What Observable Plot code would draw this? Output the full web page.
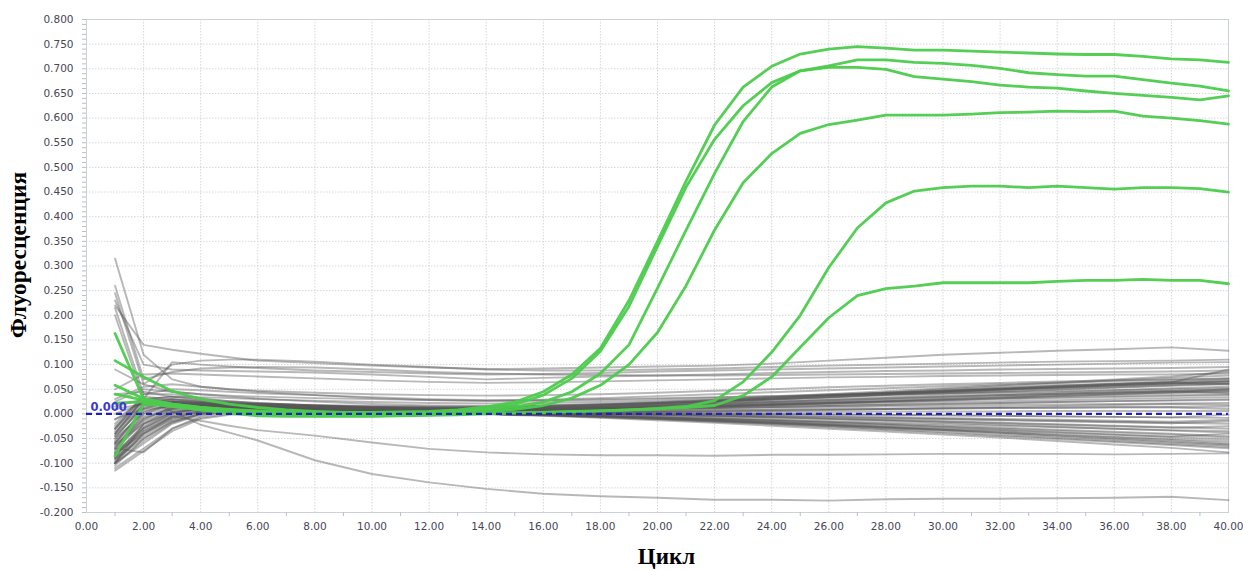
<!DOCTYPE html>
<html><head><meta charset="utf-8">
<script src="https://cdn.jsdelivr.net/npm/d3@7"></script>
<script src="https://cdn.jsdelivr.net/npm/@observablehq/plot@0.6"></script>
<style>body{margin:0;background:#fff}</style>
</head><body><div id="chart"></div>
<script>
// ---- Data ----
const cycles = [1,2,3,4,5,6,7,8,9,10,11,12,13,14,15,16,17,18,19,20,21,22,23,24,25,26,27,28,29,30,31,32,33,34,35,36,37,38,39,40];

const greenA = [0.163,0.030,0.020,0.013,0.009,0.006,0.004,0.003,0.003,0.003,0.004,0.005,0.008,0.014,0.024,0.045,0.080,0.133,0.230,0.350,0.472,0.586,0.663,0.705,0.730,0.740,0.745,0.742,0.738,0.738,0.736,0.734,0.732,0.730,0.729,0.729,0.725,0.720,0.718,0.713];
const greenB = [0.108,0.075,0.046,0.030,0.020,0.013,0.008,0.005,0.003,0.002,0.002,0.003,0.005,0.010,0.019,0.038,0.072,0.127,0.218,0.340,0.460,0.557,0.625,0.672,0.696,0.703,0.703,0.699,0.684,0.679,0.674,0.667,0.663,0.661,0.655,0.650,0.646,0.642,0.637,0.645];
const greenC = [0.040,0.028,0.018,0.012,0.008,0.005,0.003,0.002,0.001,0.001,0.001,0.002,0.004,0.008,0.014,0.024,0.045,0.082,0.140,0.255,0.373,0.488,0.593,0.663,0.696,0.706,0.718,0.718,0.713,0.711,0.707,0.701,0.692,0.688,0.685,0.685,0.678,0.671,0.665,0.655];
const greenD = [0.022,0.025,0.015,0.008,0.003,0.000,-0.003,-0.004,-0.004,-0.004,-0.003,-0.002,0.000,0.004,0.009,0.017,0.032,0.058,0.100,0.165,0.260,0.373,0.469,0.528,0.569,0.587,0.596,0.606,0.606,0.606,0.608,0.611,0.612,0.614,0.613,0.614,0.604,0.600,0.595,0.588];
const greenE = [0.058,0.031,0.020,0.013,0.008,0.004,0.001,-0.001,-0.002,-0.002,-0.002,-0.001,0.000,0.001,0.002,0.003,0.004,0.006,0.008,0.011,0.015,0.027,0.065,0.125,0.200,0.297,0.377,0.428,0.452,0.459,0.462,0.462,0.459,0.462,0.459,0.456,0.459,0.459,0.457,0.450];
const greenF = [-0.085,0.020,0.016,0.008,0.001,-0.004,-0.005,-0.005,-0.005,-0.005,-0.004,-0.003,-0.002,0.000,0.002,0.003,0.005,0.006,0.008,0.010,0.013,0.017,0.037,0.075,0.135,0.195,0.240,0.254,0.259,0.266,0.266,0.266,0.266,0.269,0.271,0.271,0.273,0.271,0.271,0.264];

// grey (negative) curves, read at these cycles
const greyCycles = [1,2,3,4,5,6,8,10,12,14,16,18,20,22,24,26,28,30,32,34,36,38,40];
const g1 = [0.22,0.14,0.13,0.122,0.115,0.108,0.103,0.098,0.094,0.091,0.092,0.094,0.096,0.098,0.102,0.108,0.114,0.12,0.124,0.128,0.131,0.135,0.128];
const g2 = [0.09,0.06,0.1,0.108,0.11,0.11,0.106,0.1,0.095,0.09,0.088,0.088,0.09,0.092,0.095,0.098,0.1,0.102,0.104,0.106,0.107,0.108,0.11];
const g3 = [-0.03,0.03,0.105,0.1,0.096,0.093,0.088,0.085,0.082,0.08,0.081,0.083,0.086,0.088,0.09,0.092,0.094,0.096,0.098,0.1,0.102,0.104,0.105];
const g4 = [0.23,0.1,0.09,0.088,0.087,0.086,0.084,0.08,0.075,0.07,0.073,0.076,0.078,0.08,0.083,0.085,0.087,0.088,0.09,0.091,0.092,0.093,0.095];
const g5 = [0.26,0.07,0.085,0.092,0.094,0.095,0.094,0.09,0.085,0.082,0.08,0.079,0.078,0.078,0.079,0.08,0.081,0.082,0.083,0.084,0.085,0.086,0.088];
const g6 = [0.05,0.08,0.082,0.08,0.078,0.076,0.072,0.068,0.065,0.063,0.064,0.066,0.068,0.07,0.072,0.074,0.075,0.077,0.078,0.079,0.08,0.08,0.082];
const g7 = [0.315,0.12,0.07,0.055,0.05,0.047,0.043,0.04,0.038,0.037,0.038,0.04,0.043,0.047,0.05,0.054,0.057,0.06,0.063,0.066,0.068,0.07,0.072];
const g8 = [0.245,0.06,0.045,0.04,0.037,0.035,0.032,0.03,0.028,0.027,0.029,0.032,0.036,0.04,0.044,0.048,0.052,0.056,0.06,0.063,0.066,0.069,0.072];
const g9 = [0.215,0.04,0.05,0.048,0.045,0.042,0.038,0.034,0.03,0.028,0.028,0.03,0.032,0.034,0.036,0.038,0.04,0.042,0.044,0.046,0.048,0.05,0.052];
const g10 = [0.2,0.03,0.035,0.034,0.032,0.03,0.027,0.024,0.022,0.021,0.022,0.024,0.027,0.03,0.034,0.038,0.042,0.046,0.05,0.054,0.058,0.062,0.066];
const g11 = [0.03,0.055,0.06,0.055,0.05,0.045,0.038,0.032,0.028,0.026,0.026,0.028,0.03,0.033,0.036,0.04,0.043,0.046,0.05,0.053,0.056,0.06,0.062];
const b1 = [-0.1,-0.02,0.01,0.018,0.02,0.02,0.018,0.016,0.015,0.015,0.017,0.02,0.024,0.029,0.034,0.04,0.046,0.052,0.058,0.064,0.07,0.076,0.085];
const b2 = [-0.09,-0.03,0.0,0.012,0.015,0.016,0.015,0.013,0.012,0.012,0.014,0.017,0.021,0.026,0.031,0.037,0.043,0.05,0.056,0.062,0.068,0.073,0.078];
const b3 = [-0.07,0.0,0.02,0.022,0.021,0.02,0.017,0.015,0.014,0.014,0.016,0.019,0.023,0.028,0.033,0.038,0.043,0.048,0.053,0.058,0.062,0.066,0.07];
const b4 = [-0.06,0.01,0.025,0.024,0.022,0.02,0.016,0.013,0.011,0.011,0.013,0.016,0.02,0.024,0.029,0.034,0.039,0.044,0.049,0.054,0.058,0.062,0.065];
const b5 = [-0.05,0.02,0.03,0.027,0.024,0.021,0.017,0.014,0.012,0.011,0.012,0.014,0.017,0.021,0.025,0.03,0.034,0.039,0.044,0.049,0.053,0.057,0.06];
const b6 = [-0.04,0.03,0.035,0.03,0.026,0.022,0.017,0.013,0.011,0.01,0.011,0.013,0.016,0.02,0.024,0.028,0.032,0.036,0.04,0.044,0.048,0.052,0.055];
const b7 = [-0.03,0.04,0.04,0.032,0.026,0.022,0.016,0.012,0.01,0.009,0.01,0.012,0.015,0.018,0.022,0.026,0.03,0.034,0.038,0.041,0.044,0.047,0.05];
const b8 = [-0.08,-0.04,-0.01,0.005,0.01,0.012,0.012,0.011,0.01,0.01,0.012,0.014,0.017,0.02,0.024,0.028,0.031,0.035,0.038,0.041,0.044,0.046,0.048];
const b9 = [-0.065,-0.01,0.012,0.016,0.016,0.015,0.013,0.011,0.009,0.009,0.01,0.012,0.014,0.017,0.02,0.023,0.026,0.03,0.033,0.036,0.039,0.042,0.045];
const b10 = [0.02,0.025,0.022,0.018,0.016,0.014,0.011,0.009,0.008,0.008,0.009,0.011,0.013,0.016,0.019,0.022,0.025,0.028,0.031,0.034,0.036,0.038,0.04];
const b11 = [-0.105,-0.05,-0.015,0.0,0.006,0.008,0.009,0.008,0.008,0.008,0.009,0.011,0.013,0.015,0.018,0.021,0.024,0.027,0.03,0.032,0.034,0.036,0.038];
const b12 = [-0.02,0.035,0.03,0.024,0.019,0.016,0.012,0.009,0.007,0.007,0.008,0.009,0.011,0.013,0.016,0.018,0.021,0.024,0.026,0.028,0.03,0.032,0.034];
const b13 = [0.01,0.02,0.018,0.015,0.012,0.01,0.008,0.007,0.006,0.006,0.007,0.008,0.01,0.012,0.014,0.016,0.018,0.02,0.022,0.024,0.026,0.027,0.028];
const b14 = [-0.085,-0.02,0.005,0.01,0.011,0.011,0.01,0.008,0.007,0.006,0.007,0.008,0.009,0.01,0.012,0.013,0.015,0.016,0.018,0.019,0.02,0.021,0.022];
const b15 = [-0.095,-0.035,-0.005,0.006,0.009,0.01,0.009,0.007,0.006,0.005,0.005,0.006,0.006,0.007,0.008,0.009,0.01,0.011,0.012,0.013,0.014,0.014,0.015];
const b16 = [-0.075,-0.015,0.008,0.012,0.012,0.011,0.009,0.007,0.005,0.004,0.004,0.004,0.004,0.004,0.004,0.004,0.005,0.005,0.005,0.006,0.006,0.006,0.006];
const b17 = [-0.055,0.005,0.018,0.016,0.014,0.012,0.009,0.006,0.004,0.003,0.002,0.002,0.001,0.0,0.0,-0.001,-0.002,-0.003,-0.004,-0.005,-0.006,-0.007,-0.008];
const b18 = [-0.045,0.015,0.022,0.018,0.015,0.012,0.008,0.005,0.003,0.002,0.001,0.0,-0.001,-0.002,-0.004,-0.006,-0.008,-0.01,-0.012,-0.014,-0.016,-0.018,-0.02];
const b19 = [-0.035,0.02,0.025,0.02,0.016,0.012,0.008,0.005,0.003,0.002,0.001,0.0,-0.002,-0.004,-0.006,-0.009,-0.012,-0.015,-0.018,-0.021,-0.024,-0.027,-0.03];
const b20 = [-0.1,-0.06,-0.02,-0.002,0.004,0.006,0.006,0.005,0.004,0.003,0.002,0.0,-0.002,-0.005,-0.008,-0.011,-0.014,-0.018,-0.022,-0.026,-0.03,-0.034,-0.038];
const b21 = [-0.11,-0.07,-0.03,-0.008,0.0,0.004,0.005,0.004,0.003,0.002,0.0,-0.002,-0.005,-0.008,-0.012,-0.016,-0.02,-0.024,-0.028,-0.032,-0.036,-0.04,-0.045];
const b22 = [-0.06,-0.005,0.012,0.013,0.012,0.01,0.007,0.004,0.002,0.0,-0.002,-0.004,-0.007,-0.01,-0.014,-0.018,-0.022,-0.027,-0.032,-0.037,-0.042,-0.047,-0.052];
const b23 = [-0.025,0.03,0.028,0.022,0.017,0.013,0.008,0.005,0.002,0.0,-0.002,-0.005,-0.008,-0.012,-0.016,-0.021,-0.026,-0.031,-0.036,-0.041,-0.046,-0.051,-0.056];
const b24 = [-0.09,-0.045,-0.012,0.002,0.007,0.008,0.007,0.005,0.003,0.001,-0.001,-0.004,-0.008,-0.012,-0.017,-0.022,-0.027,-0.032,-0.038,-0.044,-0.05,-0.056,-0.062];
const b25 = [-0.115,-0.075,-0.035,-0.01,-0.002,0.002,0.004,0.003,0.002,0.0,-0.003,-0.006,-0.01,-0.015,-0.02,-0.025,-0.031,-0.037,-0.043,-0.049,-0.055,-0.061,-0.067];
const b26 = [-0.08,-0.025,0.004,0.01,0.01,0.009,0.007,0.004,0.002,0.0,-0.003,-0.007,-0.011,-0.016,-0.021,-0.027,-0.033,-0.039,-0.045,-0.051,-0.057,-0.063,-0.07];
const b27 = [-0.07,-0.078,-0.03,-0.005,0.003,0.006,0.006,0.004,0.002,-0.001,-0.004,-0.008,-0.013,-0.018,-0.024,-0.03,-0.036,-0.042,-0.048,-0.055,-0.062,-0.069,-0.078];
const b28 = [0.0,0.022,0.02,0.016,0.013,0.01,0.007,0.004,0.002,0.0,-0.002,-0.004,-0.006,-0.009,-0.012,-0.015,-0.018,-0.021,-0.024,-0.027,-0.03,-0.033,-0.035];
const b29 = [-0.01,0.01,0.015,0.013,0.011,0.009,0.006,0.004,0.002,0.001,0.0,-0.001,-0.003,-0.005,-0.007,-0.01,-0.013,-0.016,-0.019,-0.022,-0.025,-0.028,-0.025];
const b30 = [-0.098,-0.04,-0.008,0.004,0.008,0.009,0.008,0.006,0.004,0.003,0.002,0.001,0.0,-0.001,-0.002,-0.004,-0.006,-0.008,-0.01,-0.012,-0.014,-0.016,-0.012];
const b31 = [-0.05,0.0,0.015,0.015,0.013,0.011,0.008,0.006,0.004,0.003,0.003,0.003,0.004,0.005,0.006,0.008,0.01,0.012,0.014,0.016,0.018,0.02,0.018];
const b32 = [0.04,0.045,0.035,0.028,0.023,0.019,0.014,0.01,0.008,0.007,0.008,0.01,0.012,0.015,0.018,0.021,0.025,0.028,0.032,0.036,0.04,0.044,0.05];
const b33 = [-0.088,-0.028,0.002,0.012,0.014,0.014,0.013,0.012,0.011,0.012,0.014,0.018,0.022,0.027,0.032,0.037,0.042,0.047,0.052,0.057,0.061,0.065,0.068];
const b34 = [-0.072,-0.012,0.014,0.019,0.019,0.018,0.016,0.014,0.013,0.013,0.015,0.018,0.022,0.026,0.031,0.036,0.041,0.046,0.051,0.056,0.06,0.064,0.06];
const b35 = [-0.058,0.004,0.02,0.02,0.018,0.016,0.013,0.011,0.01,0.01,0.012,0.015,0.019,0.024,0.029,0.034,0.04,0.045,0.05,0.055,0.06,0.064,0.09];
const b36 = [-0.045,0.012,0.024,0.022,0.019,0.016,0.012,0.009,0.007,0.007,0.008,0.01,0.013,0.016,0.02,0.024,0.028,0.032,0.036,0.04,0.043,0.046,0.042];
const b37 = [-0.1,-0.055,-0.018,0.0,0.006,0.008,0.008,0.007,0.006,0.006,0.007,0.008,0.01,0.012,0.014,0.016,0.018,0.02,0.022,0.024,0.026,0.028,0.03];
const b38 = [-0.03,0.025,0.026,0.021,0.017,0.014,0.01,0.007,0.005,0.004,0.004,0.005,0.006,0.007,0.008,0.009,0.01,0.011,0.012,0.012,0.013,0.013,0.01];
const b39 = [-0.068,-0.008,0.01,0.013,0.012,0.01,0.008,0.005,0.003,0.002,0.001,0.0,-0.001,-0.003,-0.005,-0.007,-0.009,-0.011,-0.013,-0.015,-0.017,-0.019,-0.015];
const b40 = [-0.092,-0.05,-0.016,0.0,0.005,0.007,0.006,0.004,0.002,0.0,-0.002,-0.004,-0.007,-0.01,-0.014,-0.018,-0.022,-0.026,-0.03,-0.034,-0.038,-0.042,-0.048];
const b41 = [-0.04,0.018,0.02,0.016,0.013,0.01,0.007,0.004,0.002,0.0,-0.002,-0.005,-0.009,-0.013,-0.018,-0.023,-0.028,-0.033,-0.038,-0.043,-0.048,-0.053,-0.06];
const b42 = [-0.082,-0.035,-0.006,0.005,0.008,0.008,0.007,0.005,0.003,0.001,-0.002,-0.005,-0.009,-0.014,-0.019,-0.024,-0.029,-0.034,-0.04,-0.046,-0.052,-0.058,-0.064];
const b43 = [-0.062,-0.02,0.002,0.008,0.009,0.008,0.006,0.004,0.002,0.0,-0.003,-0.006,-0.01,-0.014,-0.018,-0.022,-0.026,-0.03,-0.034,-0.038,-0.042,-0.046,-0.04];
const b44 = [0.015,0.03,0.025,0.02,0.016,0.013,0.009,0.007,0.005,0.005,0.006,0.008,0.011,0.014,0.018,0.022,0.026,0.03,0.034,0.038,0.041,0.044,0.046];
const b45 = [-0.012,0.028,0.03,0.025,0.021,0.018,0.014,0.011,0.009,0.009,0.011,0.014,0.018,0.023,0.028,0.033,0.038,0.043,0.048,0.053,0.058,0.062,0.066];
const b46 = [-0.078,-0.03,-0.002,0.008,0.01,0.01,0.009,0.007,0.005,0.004,0.003,0.002,0.002,0.001,0.0,-0.001,-0.002,-0.003,-0.004,-0.005,-0.006,-0.007,-0.002];
const b47 = [0.025,0.05,0.045,0.04,0.035,0.031,0.025,0.02,0.017,0.016,0.017,0.019,0.022,0.026,0.03,0.034,0.038,0.042,0.046,0.05,0.054,0.058,0.062];
const low1 = [-0.04,0.03,0.005,-0.022,-0.038,-0.054,-0.094,-0.122,-0.139,-0.152,-0.162,-0.167,-0.17,-0.174,-0.174,-0.176,-0.173,-0.172,-0.172,-0.171,-0.17,-0.168,-0.175];
const low2 = [-0.1,-0.04,-0.005,-0.014,-0.024,-0.033,-0.044,-0.058,-0.071,-0.078,-0.082,-0.084,-0.084,-0.085,-0.083,-0.083,-0.082,-0.081,-0.081,-0.081,-0.082,-0.081,-0.08];

const threshold = 0;
const xTicks = [0,2,4,6,8,10,12,14,16,18,20,22,24,26,28,30,32,34,36,38,40];
const xMinorTicks = [1,3,5,7,9,11,13,15,17,19,21,23,25,27,29,31,33,35,37,39];
const yTicks = [-0.2,-0.15,-0.1,-0.05,0,0.05,0.1,0.15,0.2,0.25,0.3,0.35,0.4,0.45,0.5,0.55,0.6,0.65,0.7,0.75,0.8];
const yLabel = "Флуоресценция";
const xLabel = "Цикл";

// ---- Build tables ----
const greenCurves = [greenA, greenB, greenC, greenD, greenE, greenF];
const greyCurves = [g1,g2,g3,g4,g5,g6,g7,g8,g9,g10,g11,b1,b2,b3,b4,b5,b6,b7,b8,b9,b10,b11,b12,b13,b14,b15,b16,b17,b18,b19,b20,b21,b22,b23,b24,b25,b26,b27,b28,b29,b30,b31,b32,b33,b34,b35,b36,b37,b38,b39,b40,b41,b42,b43,b44,b45,b46,b47,low1,low2];
const greenRows = greenCurves.flatMap((vals, i) => vals.map((v, j) => ({id: i, cycle: cycles[j], value: v})));
const greyRows = greyCurves.flatMap((vals, i) => vals.map((v, j) => ({id: i, cycle: greyCycles[j], value: v})));
const yMinor = d3.range(-200, 801, 10).map(v => v / 1000);

const chart = Plot.plot({
  width: 1243, height: 570,
  marginLeft: 86, marginRight: 15, marginTop: 19, marginBottom: 58,
  style: {fontFamily: "'DejaVu Sans', sans-serif", fontSize: "10.5px", background: "#fff", overflow: "visible"},
  x: {domain: [0, 40], label: null},
  y: {domain: [-0.2, 0.8], label: null},
  marks: [
    Plot.gridX(xTicks, {stroke: "#d3d6dc", strokeOpacity: 1, strokeDasharray: "1.5,1.5"}),
    Plot.gridY(yTicks, {stroke: "#d3d6dc", strokeOpacity: 1, strokeDasharray: "1.5,1.5"}),
    Plot.frame({stroke: "#cdd1d9"}),
    Plot.axisX(xMinorTicks, {tickSize: 4, tickFormat: () => "", stroke: "#b9bec8", label: null}),
    Plot.axisX(xTicks, {tickSize: 0, tickPadding: 10, tickFormat: d => d.toFixed(2), fill: "#474756", label: null}),
    Plot.axisY(yMinor, {tickSize: 4, tickFormat: () => "", stroke: "#b9bec8", label: null}),
    Plot.axisY(yTicks, {tickSize: 0, tickPadding: 13, tickFormat: d => d.toFixed(3), fill: "#474756", label: null}),
    Plot.line(greyRows, {x: "cycle", y: "value", z: "id", stroke: "#555", strokeOpacity: 0.42, strokeWidth: 1.9}),
    Plot.line(greenRows, {x: "cycle", y: "value", z: "id", stroke: "#4ccb4c", strokeOpacity: 0.95, strokeWidth: 2.8}),
    Plot.ruleY([threshold], {stroke: "#2020bb", strokeWidth: 2.2, strokeDasharray: "6,4"}),
    Plot.text([threshold], {x: 0, y: d => d, text: d => d.toFixed(3), textAnchor: "start", dx: 4, dy: -7, fill: "#3a3ad0", fontSize: 11.5, fontWeight: 600}),
    Plot.text([yLabel], {frameAnchor: "left", textAnchor: "middle", dx: -68, dy: -11, rotate: -90, fontSize: 23.5, fontWeight: "bold", fontFamily: "'Liberation Serif', serif", fill: "#000"}),
    Plot.text([xLabel], {frameAnchor: "bottom", textAnchor: "middle", lineAnchor: "middle", dx: 9, dy: 44, fontSize: 23, fontWeight: "bold", fontFamily: "'Liberation Serif', serif", fill: "#000"})
  ]
});
document.getElementById("chart").append(chart);
</script>
</body></html>
